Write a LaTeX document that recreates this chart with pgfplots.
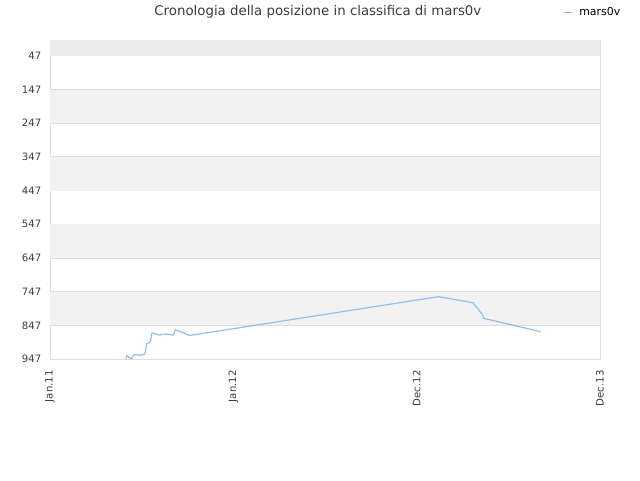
\documentclass[border=0pt]{standalone}
\usepackage{fontspec}
\setmainfont{DejaVu Sans}
\usepackage{pgfplots}
\pgfplotsset{compat=1.18}
\definecolor{lineblue}{RGB}{144,192,240}
\definecolor{band}{RGB}{242,242,242}
\definecolor{topband}{RGB}{236,236,236}
\definecolor{gridc}{RGB}{221,221,221}
\definecolor{txt}{RGB}{60,60,60}
\begin{document}
\begin{tikzpicture}
\path[use as bounding box] (0,0) rectangle (480pt,360pt);
\begin{axis}[
  at={(37.5pt,90.75pt)}, anchor=south west,
  scale only axis, width=412.5pt, height=239.25pt,
  xmin=0, xmax=3, ymin=0, ymax=947, y dir=reverse,
  xtick={0,1,2,3}, xticklabels={Jan.11,Jan.12,Dec.12,Dec.13},
  ytick={47,147,...,947},
  /pgf/number format/assume math mode=true,
  tick style={draw=none},
  axis line style={draw=gridc},
  ymajorgrids, grid style={draw=gridc, line width=0.6pt},
  tick label style={font=\fontsize{7.6}{9}\selectfont, text=txt},
  x tick label style={rotate=90, anchor=east},
  xticklabel shift=5pt,
  yticklabel style={xshift=-3pt},
  legend style={at={(1.047,1.085)}, anchor=east, draw=none, fill=none,
    font=\fontsize{8.2}{9}\selectfont, inner sep=0pt,
    nodes={inner xsep=4pt}},
  legend image code/.code={\draw[#1] (0pt,0pt) -- (8pt,0pt);},
  clip=false,
]
\fill[topband] (axis cs:0,0) rectangle (axis cs:3,47);
\foreach \b in {147,347,547,747}{
  \edef\temp{\noexpand\fill[band] (axis cs:0,\b) rectangle (axis cs:3,\b+100);}
  \temp
}
\addplot[lineblue, line width=0.9pt] coordinates {
(0.4145,948) (0.418,937) (0.431,942) (0.446,946) (0.458,934) (0.473,934)
(0.485,936) (0.500,934) (0.514,934) (0.520,926) (0.527,902) (0.542,898)
(0.549,893) (0.555,871) (0.563,870) (0.582,874) (0.600,876) (0.609,873)
(0.655,874) (0.673,876) (0.683,860) (0.709,866) (0.736,871) (0.746,874)
(0.764,877) (2.118,762) (2.309,780) (2.313,784) (2.360,816) (2.364,826)
(2.677,866)
};
\addlegendentry{mars0v}
\node[font=\fontsize{10}{12}\selectfont, text=txt] at (axis description cs:0.487,1.088) {Cronologia della posizione in classifica di mars0v};
\end{axis}
\end{tikzpicture}
\end{document}
